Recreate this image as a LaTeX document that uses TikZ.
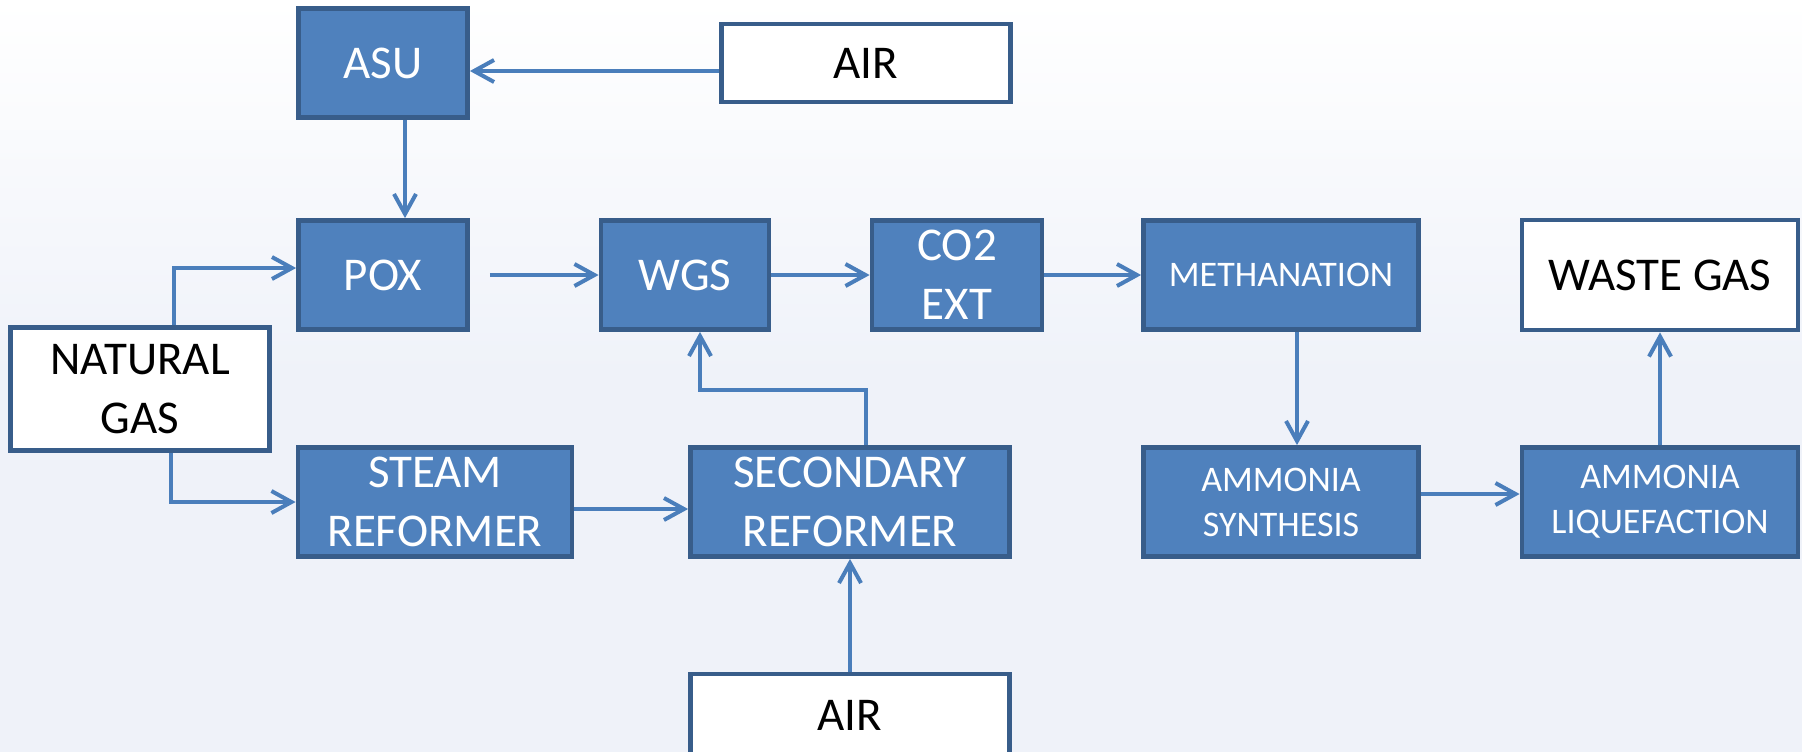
\documentclass[tikz,border=0pt]{standalone}
\usepackage{fontspec}
\setmainfont{Carlito}
\usetikzlibrary{arrows.meta}

\definecolor{boxblue}{HTML}{4F81BD}
\definecolor{boxedge}{HTML}{385D8A}
\definecolor{linkblue}{HTML}{4A7EBB}
\definecolor{bgblue}{HTML}{EFF2F9}

\begin{document}
\begin{tikzpicture}[x=0.5pt, y=-0.5pt,
  unit/.style={draw=boxedge, line width=2.4pt, fill=boxblue, text=white,
    align=center, inner sep=0pt, font=\fontsize{23.5}{29.5}\selectfont},
  small/.style={font=\fontsize{18}{22.5}\selectfont},
  feed/.style={unit, fill=white, text=black},
  flow/.style={draw=linkblue, line width=2pt,
    -{Straight Barb[length=10pt,width=11pt]}}]

\useasboundingbox (0,0) rectangle (1802,751);
\clip (0,0) rectangle (1802,751);
\shade[top color=white, bottom color=bgblue, middle color=bgblue]
  (0,0) rectangle (1802,751); %% background

%% top rows
\node[unit, minimum width=84.5pt, minimum height=54.5pt] (asu) at (383,63) {ASU};
\node[feed, minimum width=144.5pt, minimum height=39pt] (airtop) at (866,63) {AIR};
\node[unit, minimum width=84.5pt, minimum height=54.5pt] (pox) at (383,275) {POX};
\node[unit, minimum width=84pt, minimum height=54.5pt] (wgs) at (685,275) {WGS};
\node[unit, minimum width=85pt, minimum height=54.5pt] (co2) at (957,275) {CO2\\EXT};
\node[unit, small, minimum width=137.5pt, minimum height=54.5pt] (meth) at (1281,275) {METHANATION};
\node[feed, minimum width=138pt, minimum height=55pt] (waste) at (1660,275) {WASTE GAS};

%% lower rows
\node[feed, minimum width=129.5pt, minimum height=61.5pt] (natgas) at (140,389) {NATURAL\\GAS};
\node[unit, minimum width=137pt, minimum height=54.5pt] (steam) at (435,502) {STEAM\\REFORMER};
\node[unit, minimum width=159.5pt, minimum height=54.5pt] (secref) at (850,502) {SECONDARY\\REFORMER};
\node[unit, small, minimum width=137.5pt, minimum height=54.5pt] (ammsyn) at (1281,502) {AMMONIA\\SYNTHESIS};
\node[unit, small, minimum width=138pt, minimum height=54.5pt] (ammliq) at (1660,502) {AMMONIA\\LIQUEFACTION};
\node[feed, minimum width=159.5pt, minimum height=41pt] (airbot) at (850,715) {AIR};

%% connectors
\draw[flow] ([yshift=-4pt]airtop.west) -- ([yshift=-4pt]airtop.west -| asu.east);
\draw[flow] ([xshift=11pt]asu.south) -- ([xshift=11pt]asu.south |- pox.north);
\draw[flow] ([xshift=17pt]natgas.north) |- ([yshift=3.5pt]pox.west);
\draw[flow] ([xshift=15.5pt]natgas.south) |- (steam.west);
\draw[flow] ([xshift=10pt]pox.east) -- (wgs.west);
\draw[flow] (wgs.east) -- (co2.west);
\draw[flow] (co2.east) -- (meth.west);
\draw[flow] ([yshift=-3.5pt]steam.east) -- ([yshift=-3.5pt]steam.east -| secref.west);
\draw[flow] ([xshift=8pt]secref.north) |- ([xshift=7.5pt,yshift=-29pt]wgs.south)
  -- ([xshift=7.5pt]wgs.south);
\draw[flow] (airbot.north) -- (secref.south);
\draw[flow] ([xshift=8pt]meth.south) -- ([xshift=8pt]meth.south |- ammsyn.north);
\draw[flow] ([yshift=4pt]ammsyn.east) -- ([yshift=4pt]ammsyn.east -| ammliq.west);
\draw[flow] (ammliq.north) -- (waste.south);

\end{tikzpicture}
\end{document}
